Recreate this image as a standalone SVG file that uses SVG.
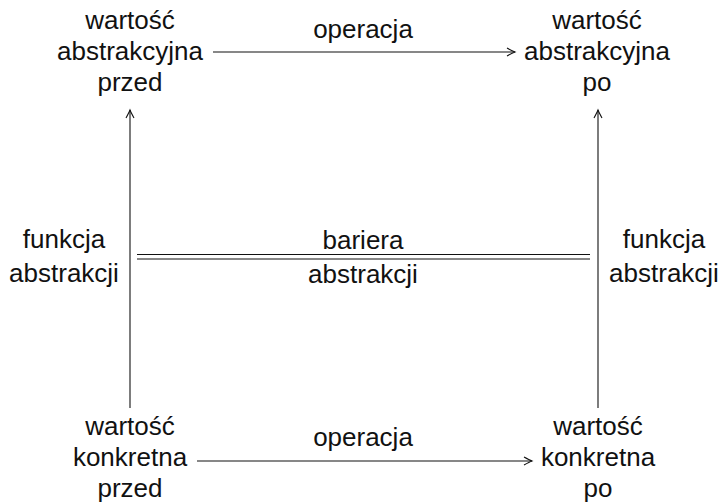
<svg xmlns="http://www.w3.org/2000/svg" width="722" height="503" viewBox="0 0 722 503">
<style>
text{font-family:"Liberation Sans",Arial,sans-serif;font-size:26px;fill:#111;text-anchor:middle}
.ln{stroke:#111;stroke-width:1.1;fill:none}
</style>
<defs>
<marker id="ah" markerUnits="userSpaceOnUse" markerWidth="12" markerHeight="10" viewBox="-9 -5 10 10" refX="0" refY="0" orient="auto">
<path d="M-8,-4 Q-2.5,-1 0,0 Q-2.5,1 -8,4" fill="none" stroke="#111" stroke-width="1.1"/>
</marker>
</defs>
<rect width="722" height="503" fill="#fff"/>
<g id="abs-przed"><text x="130" y="29">wartość</text><text x="130" y="60">abstrakcyjna</text><text x="130" y="91">przed</text></g>
<g id="abs-po"><text x="597" y="29">wartość</text><text x="597" y="60">abstrakcyjna</text><text x="597" y="91">po</text></g>
<g id="konk-przed"><text x="130" y="435">wartość</text><text x="130" y="466">konkretna</text><text x="130" y="497">przed</text></g>
<g id="konk-po"><text x="598" y="435">wartość</text><text x="598" y="466">konkretna</text><text x="598" y="497">po</text></g>
<g id="bariera"><text x="363" y="249">bariera</text><text x="363" y="283">abstrakcji</text><line class="ln" x1="137" y1="254.5" x2="590" y2="254.5"/><line class="ln" x1="137" y1="259" x2="590" y2="259"/></g>
<g id="connectors">
<line class="ln" x1="213" y1="52" x2="515" y2="52" marker-end="url(#ah)"/>
<line class="ln" x1="197" y1="461" x2="532" y2="461" marker-end="url(#ah)"/>
<line class="ln" x1="130" y1="408" x2="130" y2="110" marker-end="url(#ah)"/>
<line class="ln" x1="598" y1="408" x2="598" y2="110" marker-end="url(#ah)"/>
<text x="363" y="38">operacja</text>
<text x="363" y="446">operacja</text>
<text x="64" y="248">funkcja</text><text x="64" y="282">abstrakcji</text>
<text x="664" y="248">funkcja</text><text x="664" y="282">abstrakcji</text>
</g>
</svg>
